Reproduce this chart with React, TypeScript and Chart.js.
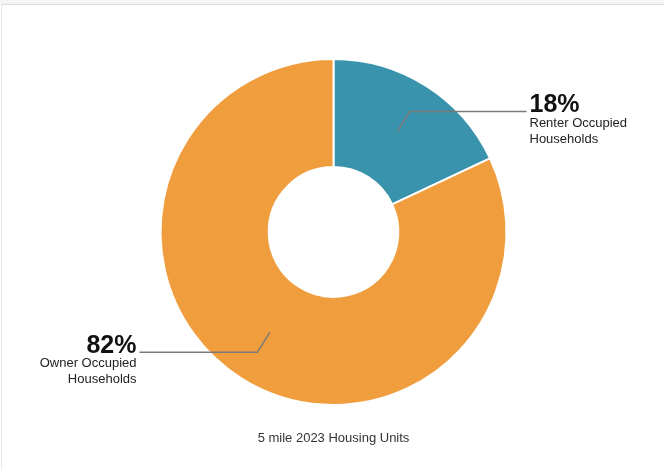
import React, { useEffect, useRef } from "react";
import { Chart, registerables } from "chart.js";

Chart.register(...registerables);

const categories = ["Renter Occupied Households", "Owner Occupied Households"];
const labelLines = [["Renter Occupied", "Households"], ["Owner Occupied", "Households"]];
const values = [18, 82];
const percentLabels = ["18%", "82%"];
const colors = ["#3a93ad", "#f09d3e"];
const titleText = "5 mile 2023 Housing Units";

const FONT = "Helvetica, Arial, 'Liberation Sans', sans-serif";

const calloutPlugin = {
  id: "callouts",
  afterDatasetsDraw(chart: any) {
    const ctx = chart.ctx;
    const meta = chart.getDatasetMeta(0);
    meta.data.forEach((arc: any, i: number) => {
      const p = arc.tooltipPosition(true);
      const cx = arc.x;
      const right = p.x >= cx;
      const dir = right ? 1 : -1;
      const ex = p.x + dir * 12.5;
      const ey = p.y + (p.y < arc.y ? -20 : 20);
      const endX = cx + dir * (right ? 193 : 194);
      ctx.save();
      ctx.strokeStyle = "#7a7a7a";
      ctx.lineWidth = 1.5;
      ctx.beginPath();
      ctx.moveTo(p.x, p.y);
      ctx.lineTo(ex, ey);
      ctx.lineTo(endX, ey);
      ctx.stroke();
      const tx = endX + dir * 3;
      ctx.textAlign = right ? "left" : "right";
      ctx.textBaseline = "alphabetic";
      ctx.fillStyle = "#111";
      ctx.font = `bold 25px ${FONT}`;
      ctx.fillText(percentLabels[i], tx, ey + 0.5);
      ctx.font = `13px ${FONT}`;
      ctx.fillStyle = "#222";
      labelLines[i].forEach((ln, j) => {
        ctx.fillText(ln, tx, ey + 15 + j * 16);
      });
      ctx.restore();
    });
  },
};

export default function App() {
  const ref = useRef<HTMLCanvasElement | null>(null);
  useEffect(() => {
    document.body.style.margin = "0";
    const chart = new Chart(ref.current as HTMLCanvasElement, {
      type: "doughnut",
      data: {
        labels: categories,
        datasets: [
          {
            data: values,
            backgroundColor: colors,
            borderColor: "#ffffff",
            borderWidth: 2,
            hoverOffset: 0,
          },
        ],
      },
      options: {
        animation: false,
        responsive: false,
        cutout: "37.5%",
        layout: { padding: { top: 58, left: 3, right: 0, bottom: 0 } },
        plugins: {
          legend: { display: false },
          tooltip: { enabled: false },
          title: {
            display: true,
            position: "bottom",
            text: titleText,
            color: "#333",
            font: { size: 13, family: FONT, weight: "normal" },
            padding: { top: 25, bottom: 23.5 },
          },
        },
      },
      plugins: [calloutPlugin],
    });
    return () => chart.destroy();
  }, []);
  return (
    <div style={{ position: "relative", width: 664, height: 470, background: "#fff", overflow: "hidden" }}>
      <div style={{ position: "absolute", left: 0, top: 0, width: 664, height: 4, background: "#f5f5f5" }} />
      <div
        style={{
          position: "absolute",
          left: 1,
          top: 4,
          width: 663,
          height: 465,
          borderTop: "1px solid #dcdcdc",
          borderLeft: "1px solid #e6e6e6",
          boxSizing: "border-box",
        }}
      />
      <canvas ref={ref} width={664} height={470} style={{ position: "absolute", left: 0, top: 0 }} />
    </div>
  );
}
